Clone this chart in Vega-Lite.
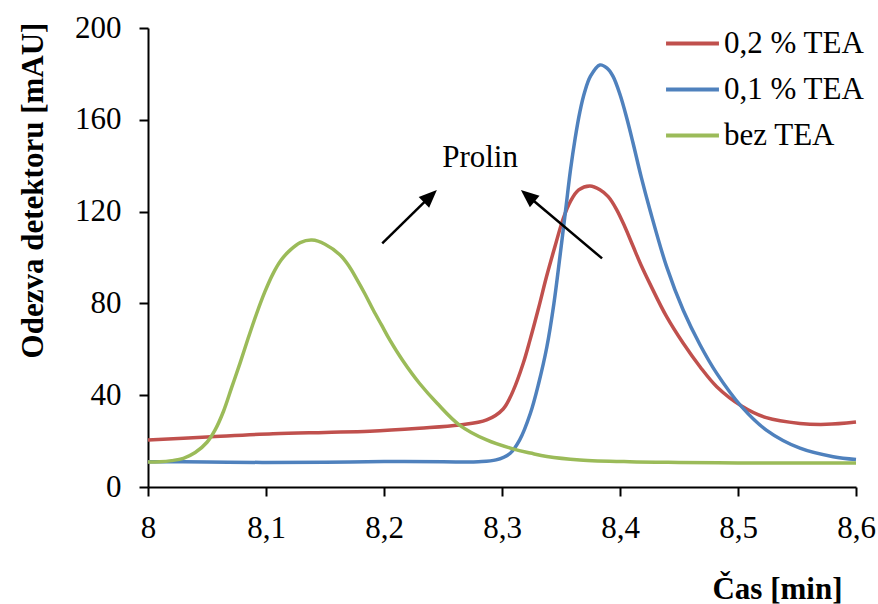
{
  "$schema": "https://vega.github.io/schema/vega-lite/v6.json",
  "width": 708,
  "height": 459,
  "autosize": {"type": "none"},
  "padding": {"left": 148, "top": 28, "right": 22, "bottom": 117},
  "background": "white",
  "config": {
    "view": {"stroke": null},
    "font": "Liberation Serif"
  },
  "datasets": {
    "curves": [
      {"t": 8.000, "v": 20.5, "s": "0,2 % TEA"},
      {"t": 8.050, "v": 21.8, "s": "0,2 % TEA"},
      {"t": 8.106, "v": 23.2, "s": "0,2 % TEA"},
      {"t": 8.150, "v": 23.8, "s": "0,2 % TEA"},
      {"t": 8.188, "v": 24.3, "s": "0,2 % TEA"},
      {"t": 8.230, "v": 25.6, "s": "0,2 % TEA"},
      {"t": 8.264, "v": 27.0, "s": "0,2 % TEA"},
      {"t": 8.287, "v": 29.2, "s": "0,2 % TEA"},
      {"t": 8.301, "v": 34.0, "s": "0,2 % TEA"},
      {"t": 8.3095, "v": 42.0, "s": "0,2 % TEA"},
      {"t": 8.318, "v": 53.9, "s": "0,2 % TEA"},
      {"t": 8.3237, "v": 64.0, "s": "0,2 % TEA"},
      {"t": 8.331, "v": 78.0, "s": "0,2 % TEA"},
      {"t": 8.3377, "v": 91.6, "s": "0,2 % TEA"},
      {"t": 8.345, "v": 105.0, "s": "0,2 % TEA"},
      {"t": 8.3519, "v": 117.0, "s": "0,2 % TEA"},
      {"t": 8.358, "v": 124.5, "s": "0,2 % TEA"},
      {"t": 8.365, "v": 129.5, "s": "0,2 % TEA"},
      {"t": 8.3746, "v": 131.2, "s": "0,2 % TEA"},
      {"t": 8.383, "v": 129.5, "s": "0,2 % TEA"},
      {"t": 8.390, "v": 126.5, "s": "0,2 % TEA"},
      {"t": 8.397, "v": 121.0, "s": "0,2 % TEA"},
      {"t": 8.404, "v": 113.5, "s": "0,2 % TEA"},
      {"t": 8.411, "v": 105.0, "s": "0,2 % TEA"},
      {"t": 8.418, "v": 96.5, "s": "0,2 % TEA"},
      {"t": 8.4254, "v": 88.5, "s": "0,2 % TEA"},
      {"t": 8.4395, "v": 74.2, "s": "0,2 % TEA"},
      {"t": 8.4536, "v": 62.6, "s": "0,2 % TEA"},
      {"t": 8.4678, "v": 52.4, "s": "0,2 % TEA"},
      {"t": 8.482, "v": 43.7, "s": "0,2 % TEA"},
      {"t": 8.503, "v": 35.3, "s": "0,2 % TEA"},
      {"t": 8.524, "v": 30.2, "s": "0,2 % TEA"},
      {"t": 8.5525, "v": 27.7, "s": "0,2 % TEA"},
      {"t": 8.575, "v": 27.3, "s": "0,2 % TEA"},
      {"t": 8.600, "v": 28.3, "s": "0,2 % TEA"},

      {"t": 8.000, "v": 11.0, "s": "0,1 % TEA"},
      {"t": 8.050, "v": 10.9, "s": "0,1 % TEA"},
      {"t": 8.100, "v": 10.7, "s": "0,1 % TEA"},
      {"t": 8.150, "v": 10.8, "s": "0,1 % TEA"},
      {"t": 8.200, "v": 11.1, "s": "0,1 % TEA"},
      {"t": 8.250, "v": 11.0, "s": "0,1 % TEA"},
      {"t": 8.280, "v": 11.0, "s": "0,1 % TEA"},
      {"t": 8.295, "v": 11.8, "s": "0,1 % TEA"},
      {"t": 8.307, "v": 14.7, "s": "0,1 % TEA"},
      {"t": 8.315, "v": 20.5, "s": "0,1 % TEA"},
      {"t": 8.324, "v": 32.0, "s": "0,1 % TEA"},
      {"t": 8.331, "v": 45.0, "s": "0,1 % TEA"},
      {"t": 8.338, "v": 61.0, "s": "0,1 % TEA"},
      {"t": 8.344, "v": 80.0, "s": "0,1 % TEA"},
      {"t": 8.349, "v": 100.0, "s": "0,1 % TEA"},
      {"t": 8.354, "v": 121.0, "s": "0,1 % TEA"},
      {"t": 8.358, "v": 138.0, "s": "0,1 % TEA"},
      {"t": 8.362, "v": 152.0, "s": "0,1 % TEA"},
      {"t": 8.366, "v": 163.5, "s": "0,1 % TEA"},
      {"t": 8.370, "v": 172.0, "s": "0,1 % TEA"},
      {"t": 8.375, "v": 179.0, "s": "0,1 % TEA"},
      {"t": 8.383, "v": 183.9, "s": "0,1 % TEA"},
      {"t": 8.389, "v": 182.5, "s": "0,1 % TEA"},
      {"t": 8.394, "v": 179.0, "s": "0,1 % TEA"},
      {"t": 8.400, "v": 171.0, "s": "0,1 % TEA"},
      {"t": 8.4056, "v": 161.0, "s": "0,1 % TEA"},
      {"t": 8.411, "v": 150.0, "s": "0,1 % TEA"},
      {"t": 8.418, "v": 135.0, "s": "0,1 % TEA"},
      {"t": 8.4254, "v": 120.7, "s": "0,1 % TEA"},
      {"t": 8.4395, "v": 96.0, "s": "0,1 % TEA"},
      {"t": 8.4536, "v": 77.0, "s": "0,1 % TEA"},
      {"t": 8.4678, "v": 62.0, "s": "0,1 % TEA"},
      {"t": 8.482, "v": 49.5, "s": "0,1 % TEA"},
      {"t": 8.503, "v": 35.0, "s": "0,1 % TEA"},
      {"t": 8.524, "v": 24.8, "s": "0,1 % TEA"},
      {"t": 8.5525, "v": 16.9, "s": "0,1 % TEA"},
      {"t": 8.5807, "v": 13.2, "s": "0,1 % TEA"},
      {"t": 8.600, "v": 12.0, "s": "0,1 % TEA"},

      {"t": 8.000, "v": 10.9, "s": "bez TEA"},
      {"t": 8.010, "v": 11.0, "s": "bez TEA"},
      {"t": 8.020, "v": 11.5, "s": "bez TEA"},
      {"t": 8.030, "v": 12.5, "s": "bez TEA"},
      {"t": 8.040, "v": 15.0, "s": "bez TEA"},
      {"t": 8.050, "v": 19.5, "s": "bez TEA"},
      {"t": 8.057, "v": 25.0, "s": "bez TEA"},
      {"t": 8.064, "v": 33.0, "s": "bez TEA"},
      {"t": 8.071, "v": 43.5, "s": "bez TEA"},
      {"t": 8.078, "v": 54.0, "s": "bez TEA"},
      {"t": 8.085, "v": 65.0, "s": "bez TEA"},
      {"t": 8.092, "v": 75.5, "s": "bez TEA"},
      {"t": 8.099, "v": 85.0, "s": "bez TEA"},
      {"t": 8.106, "v": 93.0, "s": "bez TEA"},
      {"t": 8.113, "v": 99.0, "s": "bez TEA"},
      {"t": 8.120, "v": 103.0, "s": "bez TEA"},
      {"t": 8.129, "v": 106.5, "s": "bez TEA"},
      {"t": 8.139, "v": 107.6, "s": "bez TEA"},
      {"t": 8.150, "v": 105.8, "s": "bez TEA"},
      {"t": 8.163, "v": 101.0, "s": "bez TEA"},
      {"t": 8.170, "v": 96.5, "s": "bez TEA"},
      {"t": 8.177, "v": 90.5, "s": "bez TEA"},
      {"t": 8.184, "v": 84.0, "s": "bez TEA"},
      {"t": 8.191, "v": 77.0, "s": "bez TEA"},
      {"t": 8.198, "v": 70.5, "s": "bez TEA"},
      {"t": 8.205, "v": 64.0, "s": "bez TEA"},
      {"t": 8.216, "v": 55.0, "s": "bez TEA"},
      {"t": 8.230, "v": 45.2, "s": "bez TEA"},
      {"t": 8.245, "v": 36.5, "s": "bez TEA"},
      {"t": 8.264, "v": 27.0, "s": "bez TEA"},
      {"t": 8.287, "v": 20.5, "s": "bez TEA"},
      {"t": 8.310, "v": 16.5, "s": "bez TEA"},
      {"t": 8.324, "v": 14.8, "s": "bez TEA"},
      {"t": 8.338, "v": 13.3, "s": "bez TEA"},
      {"t": 8.366, "v": 11.8, "s": "bez TEA"},
      {"t": 8.408, "v": 11.0, "s": "bez TEA"},
      {"t": 8.450, "v": 10.7, "s": "bez TEA"},
      {"t": 8.500, "v": 10.5, "s": "bez TEA"},
      {"t": 8.550, "v": 10.5, "s": "bez TEA"},
      {"t": 8.600, "v": 10.5, "s": "bez TEA"}
    ],
    "arrows": [
      {"x1": 8.1985, "y1": 106.2, "x2": 8.2387, "y2": 126.4, "dir": 46},
      {"x1": 8.3848, "y1": 99.6, "x2": 8.3225, "y2": 126.6, "dir": 310}
    ],
    "labels": [
      {"x": 8.2814, "y": 143.4, "text": "Prolin"}
    ]
  },
  "layer": [
    {
      "data": {"name": "curves"},
      "mark": {"type": "line", "strokeWidth": 3.5, "interpolate": "catmull-rom"},
      "encoding": {
        "x": {
          "field": "t", "type": "quantitative",
          "scale": {"domain": [8, 8.6], "nice": false, "zero": false},
          "axis": {
            "values": [8, 8.1, 8.2, 8.3, 8.4, 8.5, 8.6],
            "labelExpr": "replace(format(datum.value, '.2~f'), '.', ',')",
            "grid": false,
            "domainColor": "black", "domainWidth": 2,
            "tickColor": "black", "tickWidth": 2, "tickSize": 9,
            "labelFont": "Liberation Serif", "labelFontSize": 31, "labelColor": "black",
            "labelPadding": 17, "labelFlush": false,
            "title": "Čas [min]",
            "titleFont": "Liberation Serif", "titleFontSize": 31, "titleFontWeight": "bold", "titleColor": "black",
            "titleAnchor": "end", "titleAlign": "right", "titleBaseline": "alphabetic",
            "titleX": 694, "titleY": 111
          }
        },
        "y": {
          "field": "v", "type": "quantitative",
          "scale": {"domain": [0, 200], "nice": false},
          "axis": {
            "values": [0, 40, 80, 120, 160, 200],
            "grid": false,
            "domainColor": "black", "domainWidth": 2,
            "tickColor": "black", "tickWidth": 2, "tickSize": 9,
            "labelFont": "Liberation Serif", "labelFontSize": 31, "labelColor": "black",
            "labelPadding": 18, "labelFlush": false,
            "title": "Odezva detektoru [mAU]",
            "titleFont": "Liberation Serif", "titleFontSize": 31, "titleFontWeight": "bold", "titleColor": "black",
            "titleAnchor": "middle", "titleAlign": "center", "titleBaseline": "alphabetic", "titleAngle": -90,
            "titleX": -106, "titleY": 162
          }
        },
        "color": {
          "field": "s", "type": "nominal",
          "scale": {"domain": ["0,2 % TEA", "0,1 % TEA", "bez TEA"], "range": ["#C0504D", "#4F81BD", "#9BBB59"]},
          "legend": {
            "title": null,
            "orient": "none", "legendX": 516, "legendY": -13,
            "symbolType": "stroke", "symbolSize": 2800, "symbolStrokeWidth": 4,
            "labelFont": "Liberation Serif", "labelFontSize": 31, "labelColor": "black",
            "labelOffset": 3, "rowPadding": 2, "labelLimit": 400
          }
        }
      }
    },
    {
      "data": {"name": "arrows"},
      "mark": {"type": "rule", "strokeWidth": 2.5, "color": "black"},
      "encoding": {
        "x": {"field": "x1", "type": "quantitative"},
        "y": {"field": "y1", "type": "quantitative"},
        "x2": {"field": "x2"},
        "y2": {"field": "y2"}
      }
    },
    {
      "data": {"name": "arrows"},
      "mark": {"type": "point", "shape": "M0,-1L0.75,0.8L-0.75,0.8Z", "filled": true, "color": "black", "opacity": 1, "size": 400, "strokeWidth": 0},
      "encoding": {
        "x": {"field": "x2", "type": "quantitative"},
        "y": {"field": "y2", "type": "quantitative"},
        "angle": {"field": "dir", "type": "quantitative", "scale": {"domain": [0, 360], "range": [0, 360]}}
      }
    },
    {
      "data": {"name": "labels"},
      "mark": {"type": "text", "font": "Liberation Serif", "fontSize": 31, "color": "black", "align": "center", "baseline": "middle"},
      "encoding": {
        "x": {"field": "x", "type": "quantitative"},
        "y": {"field": "y", "type": "quantitative"},
        "text": {"field": "text"}
      }
    }
  ]
}
